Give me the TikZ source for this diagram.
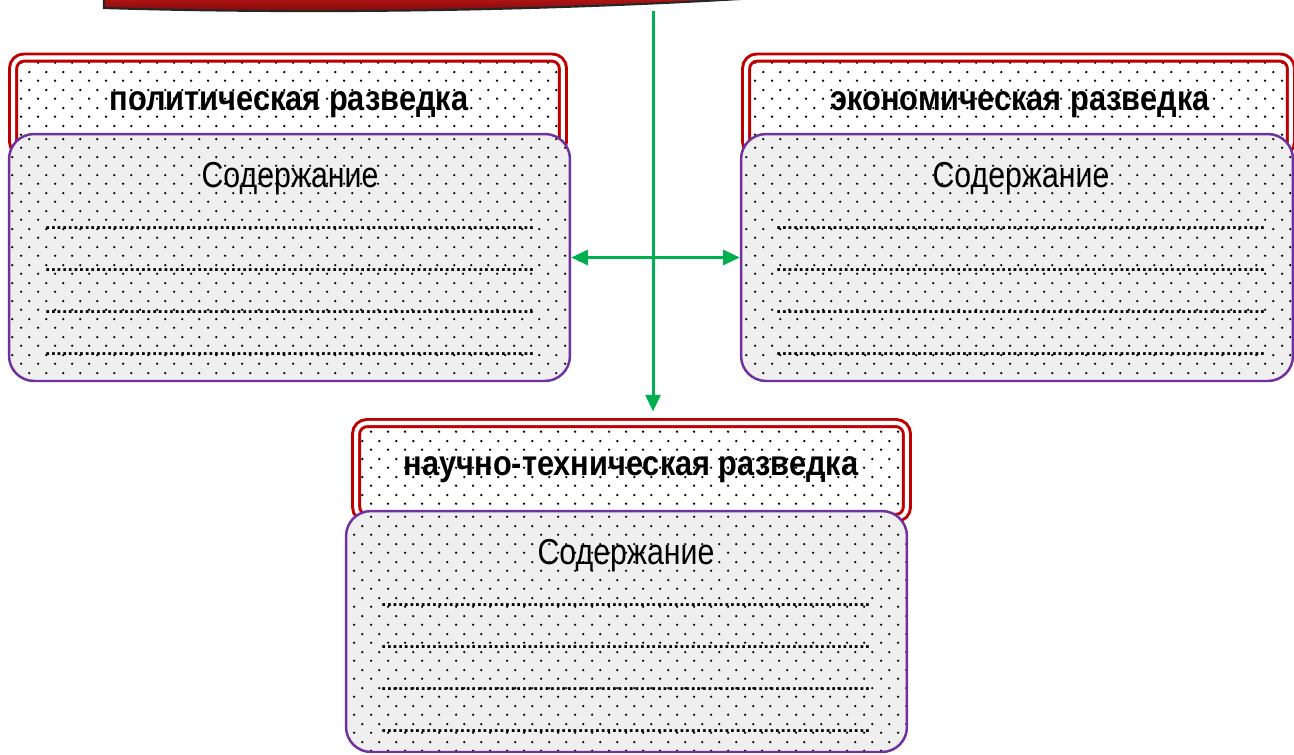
\documentclass[tikz,border=0pt]{standalone}
\usepackage{fontspec}
\newfontfamily\narrowfont{Liberation Sans}[FakeStretch=0.84]
\newfontfamily\titlefont{Liberation Sans}[FakeStretch=0.875]
\newfontfamily\rowfont{Liberation Sans}
\usetikzlibrary{arrows.meta, patterns}

\definecolor{boxred}{RGB}{192,0,0}
\definecolor{boxpurple}{RGB}{112,48,160}
\definecolor{boxgray}{RGB}{239,239,239}
\definecolor{arrowgreen}{RGB}{0,176,80}
\definecolor{bannerred}{RGB}{190,22,22}
\definecolor{bannerdark}{RGB}{120,10,10}

\pgfdeclarepatternformonly{bgdots}{\pgfqpoint{0pt}{0pt}}{\pgfqpoint{9.5pt}{10pt}}{\pgfqpoint{9.5pt}{10pt}}{%
	\pgfpathcircle{\pgfqpoint{2.375pt}{2.5pt}}{0.75pt}%
	\pgfpathcircle{\pgfqpoint{7.125pt}{7.5pt}}{0.75pt}%
	\pgfusepath{fill}}

\newcommand{\dotrow}{\makebox[9.8cm]{\leaders\hbox to 3.2pt{\hss.\hss}\hfill}}

\tikzset{
	titlebox/.style = {draw = boxred, double = white, line width = 1.7pt, double distance = 2.3pt, rounded corners = 0.22cm, preaction = {fill = white}, pattern = bgdots, minimum height = 1.9cm},
	contentbox/.style = {draw = boxpurple, line width = 1.4pt, rounded corners = 0.5cm, preaction = {fill = boxgray}, pattern = bgdots},
	titletext/.style = {font = \titlefont\fontsize{20}{24}\selectfont\bfseries, anchor = base, inner sep = 0pt},
	bodytext/.style = {font = \narrowfont\fontsize{20.5}{24}\selectfont, anchor = base, inner sep = 0pt},
	rowtext/.style = {font = \rowfont\fontsize{11}{13}\selectfont\bfseries, anchor = base, inner sep = 0pt},
	link/.style = {arrowgreen, line width = 1.7pt}
}

\begin{document}
\begin{tikzpicture}[x = 0.02cm, y = -0.02cm, > = {Triangle[length = 9.5pt, width = 8.5pt]}]

	\useasboundingbox (0, 0) rectangle (1294, 754);

	% Banner (cut off at the top)

	\shade [top color = bannerred, bottom color = bannerdark] (104, -5) -- (104, 8) .. controls (300, 14) and (550, 12) .. (805, -5) -- cycle;
	\draw [black!85, line width = 1.2pt] (104, -5) -- (104, 8) .. controls (300, 14) and (550, 12) .. (805, -5);
	\coordinate (banner-foot) at (653, 11);

	% Title boxes

	\node [titlebox, minimum width = 11cm] (pol-title) at (288, 105) {};
	\node [titlebox, minimum width = 10.9cm] (ek-title) at (1018.5, 105) {};
	\node [titlebox, minimum width = 11.02cm] (sci-title) at (631.5, 470.5) {};

	\node [titletext] (pol-name) at (289, 110) {политическая разведка};
	\node [titletext] (ek-name) at (1020, 110) {экономическая разведка};
	\node [titletext] (sci-name) at (631, 475) {научно-техническая разведка};

	% Content boxes

	\node [contentbox, minimum width = 11.22cm, minimum height = 4.94cm] (pol-box) at (289.5, 257.5) {};
	\node [contentbox, minimum width = 11.04cm, minimum height = 4.94cm] (ek-box) at (1017, 257.5) {};
	\node [contentbox, minimum width = 11.22cm, minimum height = 4.82cm] (sci-box) at (626.5, 631.5) {};

	\foreach \b/\x/\y in {pol/290/134, ek/1021/134, sci/626/511} {
		\node [bodytext] (\b-head) at (\x, \y + 53) {Содержание};
		\foreach \k in {1, ..., 4}
			\node [rowtext] (\b-row\k) at (\x, \y + 53 + 42 * \k) {\dotrow};
	}

	% Connectors

	\draw [link, ->, shorten > = 0.2cm] (banner-foot) -- (banner-foot |- sci-title.north);
	\draw [link, <->] (pol-box.east) -- (ek-box.west);

\end{tikzpicture}
\end{document}
